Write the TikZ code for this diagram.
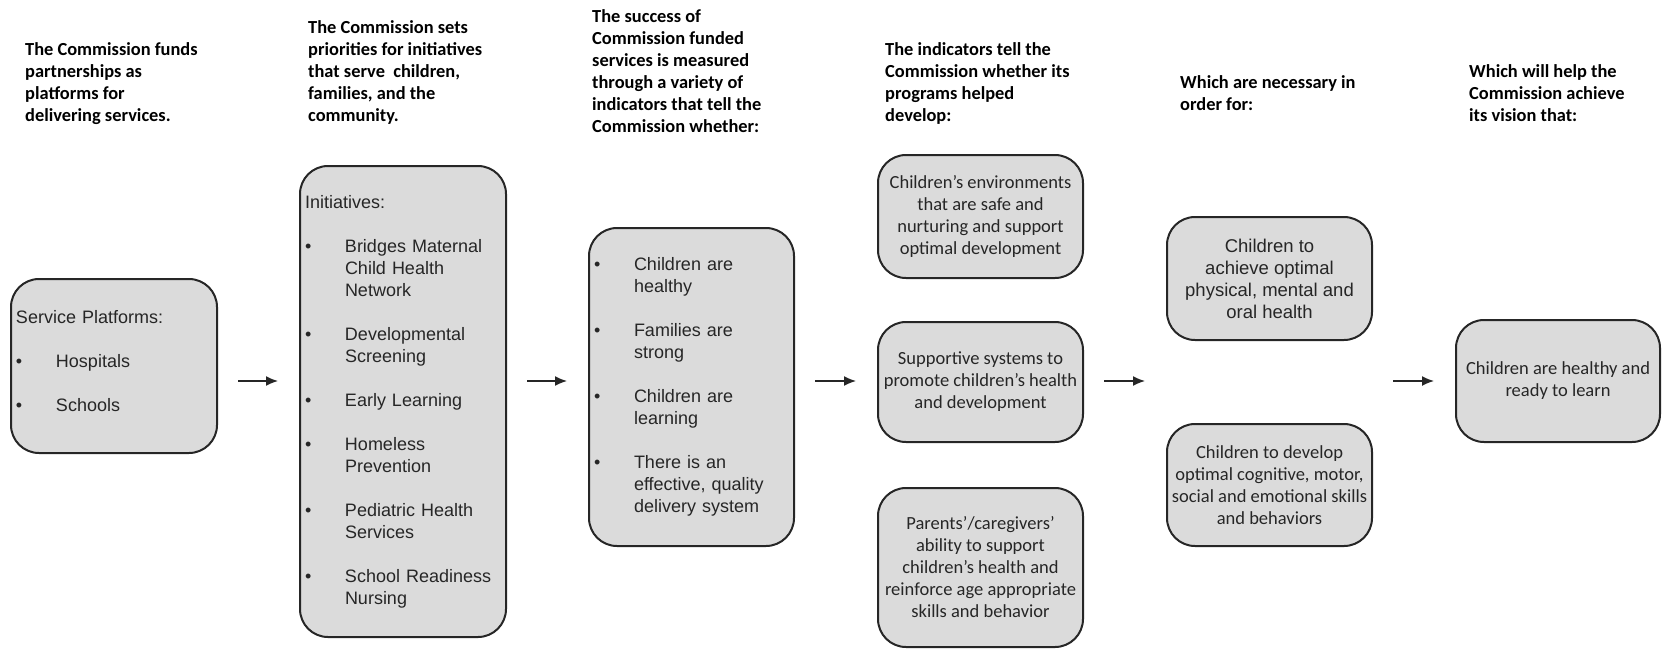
\documentclass[tikz,border=0pt]{standalone}
\usepackage{fontspec}
\setmainfont{Liberation Sans}
\newfontfamily\calibri{Carlito}
\usetikzlibrary{shapes, arrows.meta, positioning}
\definecolor{boxgray}{gray}{0.86}
\tikzstyle{box}=[draw=black!85,line width=2pt,fill=boxgray,rectangle,rounded corners=28pt,inner sep=4pt,text=black!85]
\tikzstyle{listbox}=[box,inner sep=5pt,align=left,font=\fontsize{18}{22}\selectfont]
\tikzstyle{abox}=[box,align=center,font=\fontsize{18.5}{22}\selectfont]
\tikzstyle{cbox}=[box,align=center,font=\calibri\fontsize{18.5}{22}\selectfont]
\tikzstyle{head}=[anchor=base west,align=left,inner sep=0pt,font=\calibri\bfseries\fontsize{18.4}{22}\selectfont]
\tikzstyle{flow}=[->,line width=1.5pt,draw=black!85,shorten <=20pt,shorten >=21pt]
\newcommand{\itm}{\makebox[40pt][l]{\textbullet}}
\newcommand{\cnt}{\hspace*{40pt}}

\begin{document}
\begin{tikzpicture}[x=1pt,y=-1pt,>={Latex[length=12pt,width=10pt]}]
  \useasboundingbox (0,0) rectangle (1666,649);
  % headings (placed by their last line)
  \node[head] (h1) at (25,121) {The Commission funds\\partnerships as\\platforms for\\delivering services.};
  \node[head] (h2) at (308,121) {The Commission sets\\priorities for initiatives\\that serve\ \ children,\\families, and the\\community.};
  \node[head] (h3) at (592,132) {The success of\\Commission funded\\services is measured\\through a variety of\\indicators that tell the\\Commission whether:};
  \node[head] (h4) at (885,121) {The indicators tell the\\Commission whether its\\programs helped\\develop:};
  \node[head] (h5) at (1180,110) {Which are necessary in\\order for:};
  \node[head] (h6) at (1469,121) {Which will help the\\Commission achieve\\its vision that:};
  % boxes
  \node[listbox, text width=196pt, minimum height=174pt] (sp) at (114,366)
    {Service Platforms:\\[22pt]\itm Hospitals\\[22pt]\itm Schools\par\vspace*{9pt}};
  \node[listbox, text width=196pt, minimum height=471pt] (init) at (403,401.5)
    {Initiatives:\\[22pt]
     \itm Bridges Maternal\\\cnt Child Health\\\cnt Network\\[22pt]
     \itm Developmental\\\cnt Screening\\[22pt]
     \itm Early Learning\\[22pt]
     \itm Homeless\\\cnt Prevention\\[22pt]
     \itm Pediatric Health\\\cnt Services\\[22pt]
     \itm School Readiness\\\cnt Nursing};
  \node[listbox, text width=195pt, minimum height=318pt] (meas) at (691.5,387)
    {\itm Children are\\\cnt healthy\\[22pt]
     \itm Families are\\\cnt strong\\[22pt]
     \itm Children are\\\cnt learning\\[22pt]
     \itm There is an\\\cnt effective, quality\\\cnt delivery system};
  \node[cbox, minimum width=205pt, minimum height=123pt] (env) at (980.5,216.5)
    {Children’s environments\\that are safe and\\nurturing and support\\optimal development};
  \node[cbox, minimum width=205pt, minimum height=120pt] (sys) at (980.5,382)
    {Supportive systems to\\promote children’s health\\and development};
  \node[cbox, minimum width=205pt, minimum height=159pt] (par) at (980.5,567.5)
    {Parents’/caregivers’\\ability to support\\children’s health and\\reinforce age appropriate\\skills and behavior};
  \node[abox, minimum width=205pt, minimum height=123pt] (phys) at (1269.5,278.5)
    {Children to\\achieve optimal\\physical, mental and\\oral health};
  \node[cbox, minimum width=205pt, minimum height=122pt] (cog) at (1269.5,485)
    {Children to develop\\optimal cognitive, motor,\\social and emotional skills\\and behaviors};
  \node[cbox, minimum width=204pt, minimum height=122pt] (vis) at (1558,381)
    {Children are healthy and\\ready to learn};
  % arrows
  \coordinate (mid) at (0,381);
  \draw[flow] (sp.east |- mid) -- (init.west |- mid);
  \draw[flow] (init.east |- mid) -- (meas.west |- mid);
  \draw[flow] (meas.east |- mid) -- (sys.west |- mid);
  \draw[flow] (sys.east |- mid) -- (cog.west |- mid);
  \draw[flow] (phys.east |- mid) -- (vis.west |- mid);
\end{tikzpicture}
\end{document}
